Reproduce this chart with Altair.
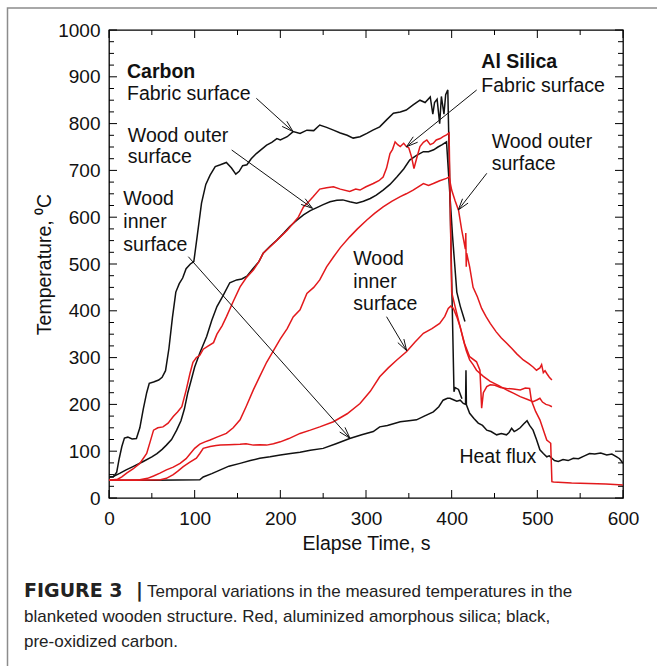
import math
import altair as alt
import pandas as pd

FONT = "Liberation Sans"

# ---------------- data ----------------
# Carbon (black): fabric surface
cf_t = [0, 5, 9, 12, 15, 18, 22, 27, 32, 36, 40, 44, 47, 52, 58, 62, 66, 70, 74, 78,
        82, 86, 90, 95, 99, 103, 108, 113, 118, 124, 130, 137, 143, 148, 152, 156, 161, 166, 172, 178,
        184, 190, 196, 200, 208, 215, 223, 231, 239, 246, 254, 262, 270, 278, 285, 293, 301, 308, 316, 324,
        332, 340, 347, 355, 363, 369, 375, 378, 380, 383, 386, 388, 391, 393, 395.5, 402.7, 404, 408, 412]
cf_T = [45, 45, 55, 85, 110, 128, 130, 126, 127, 150, 190, 225, 245, 248, 252, 258, 272, 320, 385, 440,
        458, 470, 490, 500, 505, 560, 630, 670, 690, 708, 712, 717, 705, 692, 698, 710, 712, 725, 736, 745,
        754, 760, 768, 765, 772, 783, 779, 786, 785, 797, 792, 786, 780, 775, 769, 772, 779, 786, 793, 808,
        822, 825, 829, 840, 850, 845, 857, 820, 845, 852, 800, 858, 820, 862, 872, 227, 236, 232, 212]

# Carbon: wood outer surface
co_t = [0, 5, 13, 20, 28, 40, 50, 56, 62, 67, 73, 79, 84, 88, 92, 96, 100, 106, 114, 120,
        126, 133, 141, 149, 155, 161, 168, 175, 180, 188, 196, 204, 211, 219, 227, 235, 242, 250, 258, 266,
        273, 281, 289, 297, 305, 312, 320, 328, 336, 344, 351, 359, 367, 373, 379, 384, 389, 394, 401, 406,
        410, 415.5]
co_T = [45, 46, 53, 60, 67, 78, 88, 95, 104, 113, 125, 145, 165, 190, 225, 252, 280, 310, 345, 380,
        409, 432, 460, 466, 468, 474, 490, 505, 523, 538, 551, 566, 580, 593, 605, 614, 620, 627, 633, 636,
        637, 633, 630, 634, 640, 647, 658, 670, 686, 703, 722, 732, 740, 740, 744, 750, 755, 761, 560, 440,
        410, 377]

# Carbon: wood inner surface / heat flux
ci_t = [0, 20, 50, 80, 106, 110, 120, 130, 140, 153, 165, 176, 188, 200, 212, 223, 235, 250, 265, 281,
        295, 308.5, 316, 325, 340, 350, 359, 368, 378.6, 385, 390, 395, 398, 402, 406, 410, 413.6, 416.2, 416.7, 417.2,
        421, 426, 431, 436, 441, 446, 452.5, 458, 464, 467, 470, 473, 476, 480, 484, 488, 491, 495, 499, 503,
        507, 511, 514, 517, 520, 524.5, 530, 536, 542, 548, 555, 561, 567, 574, 581, 587, 592.6, 596, 600]
ci_T = [38, 38, 38, 38.5, 39, 45, 52, 60, 68, 74, 80, 85, 88, 92, 95, 98, 102, 106, 116, 127,
        135, 142, 152, 155, 163, 165, 167, 175, 184, 195, 209, 213, 213, 210, 207, 209, 202, 200, 273, 199,
        181, 170, 160, 155, 145, 142, 135, 138, 135, 140, 149, 142, 145, 150, 158, 165, 155, 145, 125, 103,
        95, 88, 90, 85, 80, 78, 82, 80, 85, 84, 90, 95, 94, 96, 92, 94, 88, 84, 74]

# Al Silica (red): fabric surface
af_t = [0, 10, 15, 20.6, 28, 36, 44, 48, 52, 57, 63, 69, 75, 80, 85, 90, 94.5, 98, 102, 106,
        110, 116, 122, 126, 132, 137, 145, 153, 160, 168.5, 175, 180, 190, 200, 208, 215, 221, 227, 233, 238.5,
        246, 254, 262, 270, 281, 288, 293, 300, 308.5, 315, 320, 324, 328, 331, 334, 337, 340, 344, 347, 350,
        353, 356, 359, 363, 367, 371, 375, 378.6, 382, 386.6, 390, 394, 397, 398.5, 400, 404, 410, 415, 421, 429,
        433, 435, 437, 441, 445, 450.5, 457, 464, 472, 480, 486, 491, 493, 498, 503, 508, 511, 515.6, 517, 519,
        540, 560, 580, 600]
af_T = [38, 40, 45, 53, 62, 74, 95, 120, 145, 150, 152, 160, 174, 184, 195, 230, 266, 290, 300, 305,
        318, 325, 332, 350, 368, 387, 420, 451, 470, 487, 505, 523, 540, 558, 572, 587, 600, 622, 633, 644,
        660, 663, 665, 660, 655, 660, 658, 665, 672, 678, 686, 705, 736, 745, 761, 755, 751, 758, 751, 748,
        730, 704, 725, 751, 760, 765, 755, 758, 765, 768, 772, 776, 780, 600, 440, 409, 365, 330, 302, 291,
        273, 192, 225, 238, 242, 241, 236, 234, 233, 231, 235, 234, 209, 185, 167, 140, 124, 117, 35, 34,
        32, 31, 30, 28]

# Al Silica: wood outer surface
ao_t = [0, 20, 36, 45, 52, 59.5, 67, 75, 83, 90, 95, 100, 106, 112, 118, 126, 137, 145, 153, 160,
        168.5, 176, 184, 192, 200, 208, 215, 223, 231, 239, 246, 254, 262, 270, 281, 290, 301, 310, 320, 330,
        340, 347, 355, 361, 367, 373, 378.6, 386, 394, 397, 400, 404, 408, 411.7, 416, 416.5, 417, 417.5, 421, 425,
        430, 435, 440, 445, 452, 458, 464, 470, 476, 483.6, 490, 495, 499, 503, 505, 507, 509, 511, 514, 517]
ao_T = [38, 38, 39, 42, 47, 53, 60, 66, 74, 84, 95, 106, 115, 120, 124, 130, 138, 150, 167, 195,
        231, 260, 290, 315, 340, 362, 387, 402, 437, 450, 466, 494, 515, 535, 558, 575, 594, 608, 622, 634,
        644, 650, 658, 665, 672, 668, 672, 678, 683, 686, 658, 635, 615, 573, 532, 566, 494, 523, 494, 450,
        430, 405, 388, 373, 355, 342, 331, 320, 308, 295, 287, 280, 273, 278, 285, 268, 272, 266, 258, 252]

# Al Silica: wood inner surface
ai_t = [0, 30, 60, 67, 75, 80, 86.7, 94, 102, 106, 110, 118, 125, 130, 140, 153, 160, 168.5, 176, 184,
        192, 200, 210, 223, 235, 246, 262, 278, 293, 305, 316, 326, 336, 347.5, 357, 367, 377, 386, 392, 396,
        399, 402, 406, 410, 413.6, 417, 421, 425, 429, 437, 445, 455, 464, 472, 480, 488, 495, 500, 503, 506,
        510, 514, 517]
ai_T = [38, 38, 39, 42, 50, 57, 67, 76, 85, 95, 106, 110, 112, 113, 114, 115, 116, 113, 114, 113,
        116, 120, 127, 138, 145, 152, 163, 180, 202, 228, 259, 278, 295, 313, 333, 352, 362, 373, 388, 405,
        410, 405, 387, 365, 338, 315, 295, 285, 273, 260, 249, 240, 231, 224, 216.5, 211, 206, 210, 213, 205,
        200, 198, 195]

series_names = ["C fabric", "C wood outer", "C wood inner", "Al fabric", "Al wood outer", "Al wood inner"]
series_colors = ["#111111", "#111111", "#111111", "#e3191c", "#e3191c", "#e3191c"]
series_data = [(cf_t, cf_T), (co_t, co_T), (ci_t, ci_T), (af_t, af_T), (ao_t, ao_T), (ai_t, ai_T)]

# annotations
ann_text = ["Carbon", "Fabric surface", "Wood outer", "surface", "Wood", "inner", "surface",
            "Al Silica", "Fabric surface", "Wood outer", "surface", "Wood", "inner", "surface", "Heat flux"]
ann_t = [21, 21, 22, 22, 16.7, 16.7, 16.7, 434.6, 434.6, 446.7, 446.7, 285.2, 285.2, 285.2, 409]
ann_T = [897, 850, 761, 715, 626, 577, 528, 919, 868, 747, 701, 498, 449, 402, 75]
ann_bold = [True, False, False, False, False, False, False, True, False, False, False, False, False, False, False]

# arrows: start (t, T) -> head (t, T)
arr_t0 = [172, 143.2, 92.6, 429.2, 441, 324]
arr_T0 = [854, 743.6, 515.6, 871.8, 693.8, 387.4]
arr_t1 = [214.8, 237.5, 281.3, 347.3, 407.7, 347.5]
arr_T1 = [783, 619, 127.6, 750.6, 615.4, 314.7]

x_ticks = list(range(0, 601, 50))
y_ticks = list(range(0, 1001, 25))
x_labels = list(range(0, 601, 100))
y_labels = list(range(0, 1001, 100))

caption_bold = ["FIGURE 3", "|"]
caption_lines = ["Temporal variations in the measured temperatures in the",
                 "blanketed wooden structure. Red, aluminized amorphous silica; black,",
                 "pre-oxidized carbon."]

# ---------------- build ----------------
W, H = 514, 468
SX, SY = W / 600.0, H / 1000.0
XT, YT = "Elapse Time, s", "Temperature, \u2070C"

rows = []
for name, (ts, Ts) in zip(series_names, series_data):
    for i, (a, b) in enumerate(zip(ts, Ts)):
        rows.append({"series": name, "t": a, "T": b, "i": i})
df = pd.DataFrame(rows)

xs = alt.Scale(domain=[0, 600], nice=False, zero=False)
ys = alt.Scale(domain=[0, 1000], nice=False, zero=False)
xax = alt.Axis(values=x_labels, format="d", ticks=False, domain=False, grid=False,
               labelFlush=False, labelPadding=11, titlePadding=6)
yax = alt.Axis(values=y_labels, format="d", ticks=False, domain=False, grid=False,
               labelFlush=False, labelPadding=9, titlePadding=3)


def X(field="t"):
    return alt.X(f"{field}:Q", scale=xs, title=XT, axis=xax)


def Y(field="T"):
    return alt.Y(f"{field}:Q", scale=ys, title=YT, axis=yax)


lines = alt.Chart(df).mark_line(strokeWidth=1.5, clip=True).encode(
    x=X(), y=Y(),
    color=alt.Color("series:N", scale=alt.Scale(domain=series_names, range=series_colors), legend=None),
    detail="series:N",
    order="i:Q",
)

# tick marks (inward, on all four sides)
txdf = pd.DataFrame({"t": x_ticks, "major": [v % 100 == 0 for v in x_ticks]})
tydf = pd.DataFrame({"T": y_ticks, "major": [v % 100 == 0 for v in y_ticks]})
tick_layers = []
for major, L in ((True, 8), (False, 5)):
    dx = txdf[txdf.major == major]
    dy = tydf[tydf.major == major]
    tick_layers.append(alt.Chart(dx).mark_rule(color="black", strokeWidth=1).encode(
        x=X(), y=alt.value(H), y2=alt.value(H - L)))
    tick_layers.append(alt.Chart(dx).mark_rule(color="black", strokeWidth=1).encode(
        x=X(), y=alt.value(0), y2=alt.value(L)))
    tick_layers.append(alt.Chart(dy).mark_rule(color="black", strokeWidth=1).encode(
        y=Y(), x=alt.value(0), x2=alt.value(L)))
    tick_layers.append(alt.Chart(dy).mark_rule(color="black", strokeWidth=1).encode(
        y=Y(), x=alt.value(W), x2=alt.value(W - L)))

# arrows
seg = []
for a0, b0, a1, b1 in zip(arr_t0, arr_T0, arr_t1, arr_T1):
    seg.append({"t": a0, "T": b0, "t2": a1, "T2": b1})
    px, py = (a0 - a1) * SX, -(b0 - b1) * SY
    n = math.hypot(px, py)
    ux, uy = px / n, py / n
    for s in (1, -1):
        ang = math.radians(17) * s
        rx = ux * math.cos(ang) - uy * math.sin(ang)
        ry = ux * math.sin(ang) + uy * math.cos(ang)
        L = 12
        seg.append({"t": a1, "T": b1, "t2": a1 + rx * L / SX, "T2": b1 - ry * L / SY})
segdf = pd.DataFrame(seg)
arrows = alt.Chart(segdf).mark_rule(color="#111111", strokeWidth=1).encode(
    x=X(), y=Y(), x2="t2:Q", y2="T2:Q")

adf = pd.DataFrame({"t": ann_t, "T": ann_T, "label": ann_text, "bold": ann_bold})
txt_reg = alt.Chart(adf[~adf.bold]).mark_text(align="left", baseline="alphabetic", font=FONT,
                                              fontSize=19.5, color="#111111").encode(
    x=X(), y=Y(), text="label:N")
txt_bold = alt.Chart(adf[adf.bold]).mark_text(align="left", baseline="alphabetic", font=FONT,
                                              fontSize=19.5, fontWeight="bold", color="#111111").encode(
    x=X(), y=Y(), text="label:N")

# figure frame and caption (positioned in pixels relative to the plot origin)
one = pd.DataFrame({"a": [0]})
frame = alt.Chart(one).mark_rect(filled=False, stroke="#8c8c8c", strokeWidth=1.5).encode(
    x=alt.value(-101.5), x2=alt.value(700), y=alt.value(-22), y2=alt.value(800))
cap_layers = []
for s, xx in zip(caption_bold, [24 - 109, 136 - 109]):
    cap_layers.append(alt.Chart(one).mark_text(align="left", baseline="alphabetic", font="DejaVu Sans",
                                               fontSize=19, fontWeight="bold", color="#222222").encode(
        x=alt.value(xx), y=alt.value(597 - 30), text=alt.value(s)))
cap_x = [147 - 109, 24 - 109, 24 - 109]
cap_y = [597 - 30, 622 - 30, 647 - 30]
for s, xx, yy in zip(caption_lines, cap_x, cap_y):
    cap_layers.append(alt.Chart(one).mark_text(align="left", baseline="alphabetic", font=FONT,
                                               fontSize=17, color="#222222").encode(
        x=alt.value(xx), y=alt.value(yy), text=alt.value(s)))

chart = alt.layer(lines, *tick_layers, arrows, txt_reg, txt_bold, frame, *cap_layers).properties(
    width=W, height=H,
    background="white",
    autosize=alt.AutoSizeParams(type="none"),
    padding={"left": 109, "top": 30, "right": 34, "bottom": 168},
).configure_view(stroke="black", strokeWidth=1.3).configure_axis(
    labelFont=FONT, labelFontSize=19, labelColor="#111111",
    titleFont=FONT, titleFontSize=19.5, titleFontWeight="normal", titleColor="#111111",
)

chart.save("out.html", embed_options={"renderer": "svg", "actions": False})
